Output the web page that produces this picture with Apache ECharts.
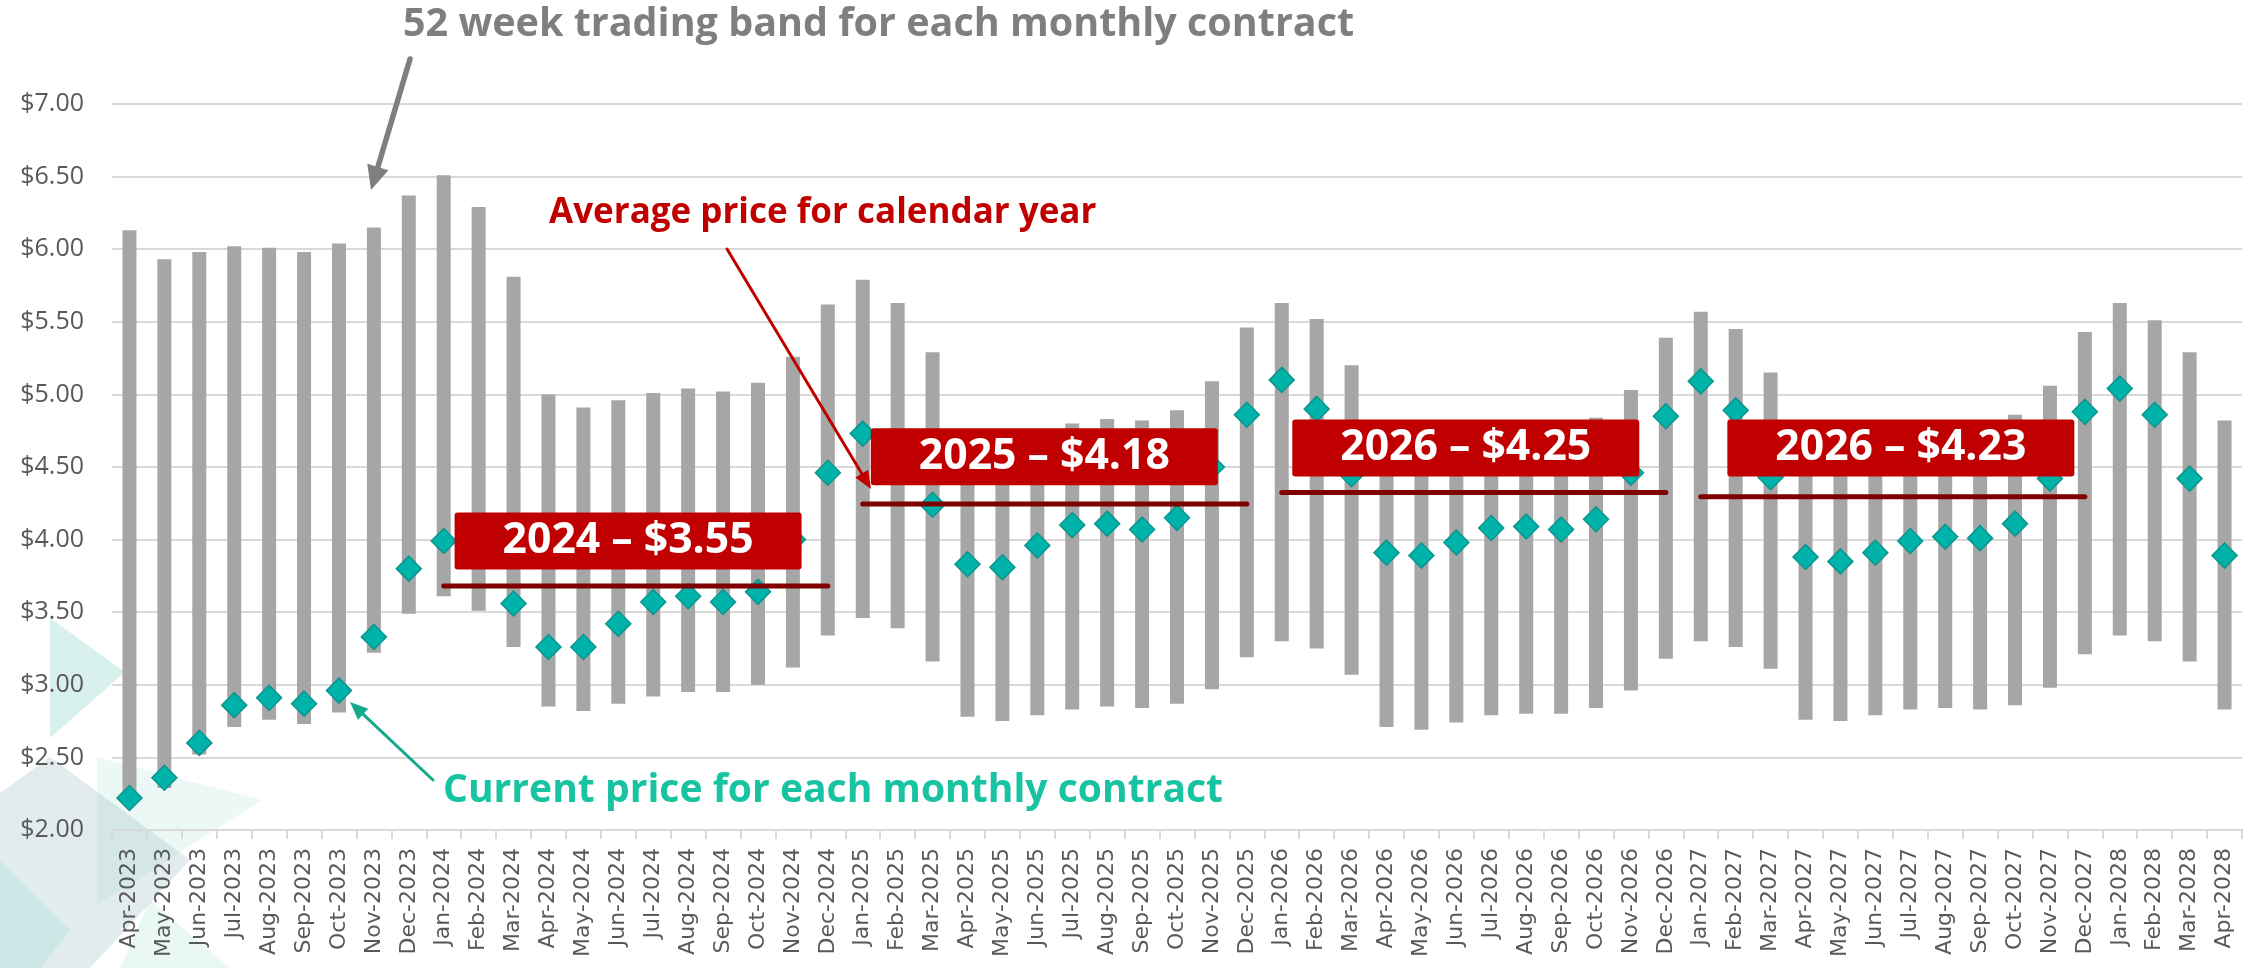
<!DOCTYPE html>
<html>
<head>
<meta charset="utf-8">
<title>52 week trading band</title>
<script src="https://cdn.jsdelivr.net/npm/echarts@6/dist/echarts.min.js"></script>
<style>
  html, body { margin: 0; padding: 0; background: #fff; }
  #chart { width: 2256px; height: 968px; }
</style>
</head>
<body>
<div id="chart"></div>
<script>
var months = [
  'Apr-2023', 'May-2023', 'Jun-2023', 'Jul-2023', 'Aug-2023', 'Sep-2023', 'Oct-2023', 'Nov-2023', 'Dec-2023',
  'Jan-2024', 'Feb-2024', 'Mar-2024', 'Apr-2024', 'May-2024', 'Jun-2024', 'Jul-2024', 'Aug-2024', 'Sep-2024', 'Oct-2024', 'Nov-2024', 'Dec-2024',
  'Jan-2025', 'Feb-2025', 'Mar-2025', 'Apr-2025', 'May-2025', 'Jun-2025', 'Jul-2025', 'Aug-2025', 'Sep-2025', 'Oct-2025', 'Nov-2025', 'Dec-2025',
  'Jan-2026', 'Feb-2026', 'Mar-2026', 'Apr-2026', 'May-2026', 'Jun-2026', 'Jul-2026', 'Aug-2026', 'Sep-2026', 'Oct-2026', 'Nov-2026', 'Dec-2026',
  'Jan-2027', 'Feb-2027', 'Mar-2027', 'Apr-2027', 'May-2027', 'Jun-2027', 'Jul-2027', 'Aug-2027', 'Sep-2027', 'Oct-2027', 'Nov-2027', 'Dec-2027',
  'Jan-2028', 'Feb-2028', 'Mar-2028', 'Apr-2028'
];

// 52 week high / low of each contract
var bandHigh = [
  6.13, 5.93, 5.98, 6.02, 6.01, 5.98, 6.04, 6.15, 6.37,
  6.51, 6.29, 5.81, 5.00, 4.91, 4.96, 5.01, 5.04, 5.02, 5.08, 5.26, 5.62,
  5.79, 5.63, 5.29, 4.74, 4.66, 4.71, 4.80, 4.83, 4.82, 4.89, 5.09, 5.46,
  5.63, 5.52, 5.20, 4.74, 4.68, 4.72, 4.77, 4.79, 4.78, 4.84, 5.03, 5.39,
  5.57, 5.45, 5.15, 4.72, 4.66, 4.70, 4.76, 4.78, 4.77, 4.86, 5.06, 5.43,
  5.63, 5.51, 5.29, 4.82
];
var bandLow = [
  2.21, 2.29, 2.52, 2.71, 2.76, 2.73, 2.81, 3.22, 3.49,
  3.61, 3.51, 3.26, 2.85, 2.82, 2.87, 2.92, 2.95, 2.95, 3.00, 3.12, 3.34,
  3.46, 3.39, 3.16, 2.78, 2.75, 2.79, 2.83, 2.85, 2.84, 2.87, 2.97, 3.19,
  3.30, 3.25, 3.07, 2.71, 2.69, 2.74, 2.79, 2.80, 2.80, 2.84, 2.96, 3.18,
  3.30, 3.26, 3.11, 2.76, 2.75, 2.79, 2.83, 2.84, 2.83, 2.86, 2.98, 3.21,
  3.34, 3.30, 3.16, 2.83
];
var currentPrice = [
  2.22, 2.36, 2.60, 2.86, 2.91, 2.87, 2.96, 3.33, 3.80,
  3.99, 3.95, 3.56, 3.26, 3.26, 3.42, 3.57, 3.61, 3.57, 3.64, 4.00, 4.46,
  4.73, 4.60, 4.24, 3.83, 3.81, 3.96, 4.10, 4.11, 4.07, 4.15, 4.50, 4.86,
  5.10, 4.90, 4.45, 3.91, 3.89, 3.98, 4.08, 4.09, 4.07, 4.14, 4.46, 4.85,
  5.09, 4.89, 4.43, 3.88, 3.85, 3.91, 3.99, 4.02, 4.01, 4.11, 4.42, 4.88,
  5.04, 4.86, 4.42, 3.89
];

// calendar year averages (line level as drawn, tag text as printed)
var avgYears = ['2024', '2025', '2026', '2027'];
var avgLevel = [3.68, 4.245, 4.325, 4.295];
var avgTags = ['2024 – $3.55', '2025 – $4.18', '2026 – $4.25', '2026 – $4.23'];

var yMin = 2, yMax = 7, yStep = 0.5;

// where the red tags sit, in (month index, price) units
var tagAt = [[14.28, 3.99], [26.2, 4.57], [38.27, 4.63], [50.73, 4.63]];

var TXT = '"Open Sans", "Noto Sans", sans-serif';
var AXF = '"DejaVu Sans", Verdana, sans-serif';

var measure = document.createElement('canvas').getContext('2d');
function fitSize(text, family, width) {
  measure.font = 'bold 100px ' + family;
  return Math.round(1000 * width / measure.measureText(text).width) / 10;
}

function arrow(x1, y1, x2, y2, color, w, headLen, headW) {
  var dx = x2 - x1, dy = y2 - y1;
  var len = Math.sqrt(dx * dx + dy * dy);
  var ux = dx / len, uy = dy / len;
  var bx = x2 - ux * headLen, by = y2 - uy * headLen;
  return [{
    type: 'line', z: 100, silent: true,
    shape: { x1: x1, y1: y1, x2: bx + ux * 2, y2: by + uy * 2 },
    style: { stroke: color, lineWidth: w, lineCap: 'round' }
  }, {
    type: 'polygon', z: 100, silent: true,
    shape: { points: [[x2, y2], [bx - uy * headW / 2, by + ux * headW / 2], [bx + uy * headW / 2, by - ux * headW / 2]] },
    style: { fill: color }
  }];
}

var bandSize = bandHigh.map(function (h, i) { return +(h - bandLow[i]).toFixed(2); });

var series = [
  {
    name: 'low', type: 'bar', stack: 'band', barWidth: 14, silent: true,
    itemStyle: { color: 'rgba(0,0,0,0)' }, data: bandLow
  },
  {
    name: '52 week band', type: 'bar', stack: 'band', barWidth: 14, silent: true,
    itemStyle: { color: '#a6a6a6' }, data: bandSize
  }
];

avgYears.forEach(function (y, k) {
  var from = months.indexOf('Jan-' + y), to = months.indexOf('Dec-' + y);
  series.push({
    name: 'avg ' + y, type: 'line', xAxisIndex: 1, symbol: 'none', silent: true,
    lineStyle: { color: '#7f0000', width: 5, cap: 'round' },
    data: [[from, avgLevel[k]], [to, avgLevel[k]]]
  });
});

series.push({
  name: 'current', type: 'scatter', symbol: 'diamond', symbolSize: [25, 25], silent: true,
  itemStyle: { color: '#00b3aa', borderColor: '#0b958d', borderWidth: 1.5, opacity: 1 },
  data: currentPrice
});

var tagSize = fitSize(avgTags[0], TXT, 251);
series.push({
  name: 'tags', type: 'scatter', xAxisIndex: 1, symbolSize: 1, silent: true,
  itemStyle: { color: 'rgba(0,0,0,0)', opacity: 1 },
  label: {
    show: true, position: 'inside', formatter: '{b}', opacity: 1,
    color: '#fff', fontFamily: TXT, fontWeight: 'bold', fontSize: tagSize,
    backgroundColor: '#c00000', borderRadius: 3,
    width: 347, height: 57, lineHeight: 57, align: 'center', verticalAlign: 'middle'
  },
  data: avgTags.map(function (t, k) { return { name: t, value: tagAt[k] }; })
});

var t1 = '52 week trading band for each monthly contract';
var t2 = 'Average price for calendar year';
var t3 = 'Current price for each monthly contract';

var deco = [
  [[50, 618], [125, 672], [50, 738]],
  [[97, 757], [262, 800], [97, 905]],
  [[0, 793], [50, 757], [190, 860], [90, 968], [0, 968]],
  [[0, 860], [70, 930], [40, 968], [0, 968]],
  [[150, 900], [230, 968], [120, 968]]
];
var decoFill = ['rgba(160,220,210,0.4)', 'rgba(200,236,230,0.35)', 'rgba(160,188,196,0.3)', 'rgba(175,228,222,0.45)', 'rgba(200,236,230,0.4)'];

var graphic = deco.map(function (pts, i) {
  return { type: 'polygon', z: -1, silent: true, shape: { points: pts }, style: { fill: decoFill[i] } };
});
graphic = graphic.concat([
  { type: 'text', z: 100, left: 403, top: 5, silent: true,
    style: { text: t1, fill: '#7f7f7f', font: 'bold ' + fitSize(t1, TXT, 952) + 'px ' + TXT } },
  { type: 'text', z: 100, left: 549, top: 196, silent: true,
    style: { text: t2, fill: '#c00000', font: 'bold ' + fitSize(t2, TXT, 548) + 'px ' + TXT } },
  { type: 'text', z: 100, left: 443, top: 771, silent: true,
    style: { text: t3, fill: '#17c3a0', font: 'bold ' + fitSize(t3, TXT, 781) + 'px ' + TXT } }
]);
graphic = graphic
  .concat(arrow(410, 59, 371, 190, '#7f7f7f', 5.5, 24, 22))
  .concat(arrow(727, 249, 871, 489, '#c00000', 3, 18, 15))
  .concat(arrow(433, 780, 350, 702, '#14a98b', 3, 18, 15));

var myChart = echarts.init(document.getElementById('chart'), null, { renderer: 'canvas' });
var option = {
  backgroundColor: '#ffffff',
  animation: false,
  grid: { left: 112, right: 14, top: 104, bottom: 138, containLabel: false },
  xAxis: [
    {
      type: 'category', data: months, boundaryGap: true,
      axisLine: { show: true, lineStyle: { color: '#d9d9d9', width: 2 } },
      axisTick: { show: true, length: 9, lineStyle: { color: '#d9d9d9', width: 2 } },
      axisLabel: { interval: 0, rotate: 90, margin: 18, color: '#595959', fontFamily: AXF, fontSize: 22 },
      splitLine: { show: false }
    },
    { type: 'value', min: -0.5, max: months.length - 0.5, show: false }
  ],
  yAxis: {
    type: 'value', min: yMin, max: yMax, interval: yStep,
    axisLine: { show: false }, axisTick: { show: false },
    axisLabel: {
      margin: 28, color: '#595959', fontFamily: TXT, fontSize: 25,
      formatter: function (v) { return '$' + v.toFixed(2); }
    },
    splitLine: { lineStyle: { color: '#d9d9d9', width: 2 } }
  },
  series: series,
  graphic: graphic
};
myChart.setOption(option);
</script>
</body>
</html>
